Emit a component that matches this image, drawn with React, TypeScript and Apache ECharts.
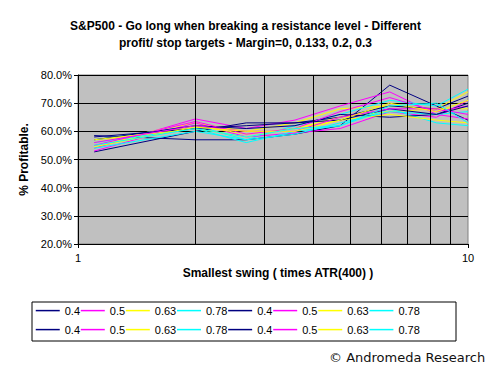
import React, { useEffect, useRef } from "react";
import * as echarts from "echarts";

const xValues = [1.1, 2, 2.7, 3.6, 4.7, 6.3, 8.3, 10];
const gridXs = [2, 3, 4, 5, 6, 7, 8, 9];
const legendLabels = ["0.4", "0.5", "0.63", "0.78"];
const colors = ["#000080", "#FF00FF", "#FFFF00", "#00FFFF"];

const s1 = [58.5, 57, 57, 59, 62, 76.4, 69, 64];
const s2 = [54, 64.4, 61, 64, 69, 74, 66, 64.4];
const s3 = [56, 63, 60, 63, 68, 69, 68, 74];
const s4 = [57, 62, 57, 62, 66, 71, 69, 75];
const s5 = [52.7, 60, 63, 63, 65, 69, 68, 72.5];
const s6 = [53, 63, 58, 59.4, 61, 67, 65, 71];
const s7 = [55, 62, 59, 61, 65, 67, 68, 68];
const s8 = [56, 61, 56, 60, 62, 68, 63, 62];
const s9 = [57, 62, 61, 62, 66, 65, 66, 70];
const s10 = [55, 63.5, 59, 61, 67, 72, 67, 69];
const s11 = [57, 61, 58, 61, 64, 66, 64, 63];
const s12 = [54, 60, 57, 59, 63, 67, 66, 67];
const s13 = [58, 61, 62, 63, 64, 68, 66, 69];
const s14 = [56, 62, 60, 60, 65, 68, 68, 66];
const s15 = [54.5, 61.5, 60, 60, 64, 70, 67, 71];
const s16 = [55, 61, 58, 61, 62, 69, 70, 63];

const allSeries = [s1, s2, s3, s4, s5, s6, s7, s8, s9, s10, s11, s12, s13, s14, s15, s16];

export default function App() {
  const ref = useRef<HTMLDivElement>(null);
  useEffect(() => {
    if (!ref.current) return;
    const chart = echarts.init(ref.current, undefined, { renderer: "svg" });
    const names = allSeries.map((_, i) => `${legendLabels[i % 4]} #${i + 1}`);
    const series: any[] = allSeries.map((vals, i) => ({
      name: names[i],
      type: "line",
      symbol: "none",
      z: 3,
      lineStyle: { color: colors[i % 4], width: 1 },
      itemStyle: { color: colors[i % 4] },
      data: vals.map((v, j) => [xValues[j], v]),
    }));
    series.push({
      name: "grid",
      type: "line",
      z: 1,
      data: [],
      markLine: {
        silent: true,
        symbol: "none",
        label: { show: false },
        lineStyle: { color: "#000", width: 1, type: "solid" },
        data: gridXs.map((x) => ({ xAxis: x })),
      },
    });
    const legendCommon = {
      left: 35,
      orient: "horizontal",
      itemWidth: 24,
      itemHeight: 14,
      itemGap: 0,
      padding: 0,
      selectedMode: false,
      itemStyle: { opacity: 0 },
      lineStyle: { width: 1.5 },
      formatter: (n: string) => n.split(" ")[0],
      textStyle: { fontSize: 11, color: "#000", fontFamily: "Liberation Sans, Arial", width: 24 },
    };
    chart.setOption({
      animation: false,
      backgroundColor: "#fff",
      title: {
        text: "S&P500 - Go long when breaking a resistance level - Different\nprofit/ stop targets - Margin=0, 0.133, 0.2, 0.3",
        left: "center",
        top: 12,
        textStyle: {
          fontSize: 12,
          fontWeight: "bold",
          color: "#000",
          fontFamily: "Liberation Sans, Arial",
          lineHeight: 17,
        },
      },
      grid: {
        left: 78,
        right: 23,
        top: 75,
        bottom: 130,
        show: true,
        backgroundColor: "#C0C0C0",
        borderColor: "#808080",
        borderWidth: 1,
      },
      xAxis: {
        type: "log",
        logBase: 10,
        min: 1,
        max: 10,
        name: "Smallest swing ( times ATR(400) )",
        nameLocation: "middle",
        nameGap: 23,
        nameTextStyle: {
          fontSize: 12,
          fontWeight: "bold",
          color: "#000",
          fontFamily: "Liberation Sans, Arial",
          padding: [0, 0, 0, 10],
        },
        axisLine: { show: true, lineStyle: { color: "#000", width: 1 } },
        axisTick: { show: true, length: 4, lineStyle: { color: "#000" } },
        axisLabel: { fontSize: 11, color: "#000", margin: 8, fontFamily: "Liberation Sans, Arial" },
        splitLine: { show: false },
      },
      yAxis: {
        type: "value",
        min: 20,
        max: 80,
        interval: 10,
        name: "% Profitable.",
        nameLocation: "middle",
        nameGap: 44,
        nameTextStyle: {
          fontSize: 12,
          fontWeight: "bold",
          color: "#000",
          fontFamily: "Liberation Sans, Arial",
        },
        axisLine: { show: true, lineStyle: { color: "#000", width: 1 } },
        axisTick: { show: true, length: 4, lineStyle: { color: "#000" } },
        axisLabel: {
          fontSize: 11,
          color: "#000",
          margin: 6,
          fontFamily: "Liberation Sans, Arial",
          formatter: (v: number) => `${v.toFixed(1)}%`,
        },
        splitLine: { show: true, lineStyle: { color: "#000", width: 1 } },
      },
      legend: [
        { ...legendCommon, top: 305, data: names.slice(0, 8) },
        { ...legendCommon, top: 324, data: names.slice(8, 16) },
      ],
      graphic: [
        {
          type: "rect",
          shape: { x: 32, y: 302, width: 424, height: 39 },
          style: { fill: "none", stroke: "#000", lineWidth: 1 },
          silent: true,
        },
        {
          type: "text",
          left: 329,
          top: 351,
          style: {
            text: "© Andromeda Research",
            font: '13px "DejaVu Sans"',
            fill: "#111",
          },
          silent: true,
        },
      ],
      series,
    });
    return () => chart.dispose();
  }, []);
  return (
    <div
      ref={ref}
      style={{ position: "fixed", left: 0, top: 0, width: 491, height: 374 }}
    />
  );
}
